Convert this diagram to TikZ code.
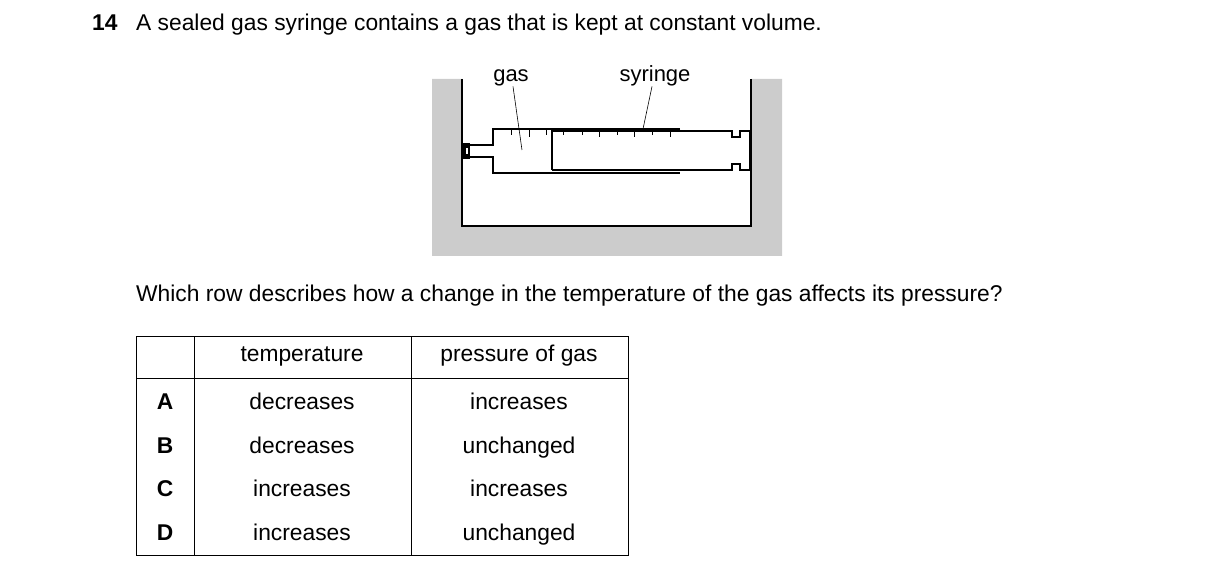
\documentclass[tikz,border=0pt]{standalone}
\usepackage{fontspec}
\setmainfont{Liberation Sans}
\usetikzlibrary{positioning}

\begin{document}
\begin{tikzpicture}[x = 1pt, y = -1pt,
	txt/.style = {inner sep = 0pt, text height = 1.6ex, text depth = 0.4ex, font = \fontsize{22.8}{26}\selectfont},
	cell/.style = {txt, anchor = center},
	lbl/.style = {inner sep = 0pt, text height = 1.6ex, text depth = 0.4ex, font = \fontsize{22}{26}\selectfont}]
\useasboundingbox (0, 0) rectangle (1216, 580);

\node [txt, anchor = west, font = \fontsize{22.8}{26}\selectfont\bfseries] (num) at (92, 27) {14};
\node [txt, anchor = west] (q) at (136, 27) {A sealed gas syringe contains a gas that is kept at constant volume.};

% tank
\fill [black!20] (432, 79) -- (462, 79) -- (462, 226) -- (751, 226) -- (751, 79) -- (782, 79) -- (782, 256) -- (432, 256) -- cycle;
\draw [line width = 1.4pt] (462, 79) -- (462, 226) -- (751, 226) -- (751, 79);

% syringe barrel and nozzle
\draw [line width = 1.2pt] (680, 129) -- (493, 129) -- (493, 145) -- (468, 145);
\draw [line width = 1.2pt] (468, 157) -- (493, 157) -- (493, 173) -- (680, 173);
\draw [line width = 2.2pt] (554, 129) -- (680, 129);
\draw [line width = 2.2pt] (554, 173) -- (680, 173);
\fill (462, 143) rectangle (470, 159);
\fill [white] (466, 148) rectangle (468, 154);

% plunger
\draw [line width = 1.2pt] (552, 170) -- (552, 131) -- (732, 131) -- (732, 137) -- (740, 137) -- (740, 131) -- (750, 131);
\draw [line width = 1.2pt] (552, 170) -- (732, 170) -- (732, 164) -- (740, 164) -- (740, 170) -- (750, 170);
\draw [line width = 2pt] (750, 130) -- (750, 171);

% scale
\foreach \x/\l in {511/5, 529/7, 546/5, 563/5, 582/5, 599/7, 617/5, 634/7, 652/5, 670/7}
	\draw [line width = 0.6pt] (\x, 130) -- (\x, 130 + \l);

% labels
\node [lbl] (gas) at (511, 78) {gas};
\node [lbl] (syr) at (655, 78) {syringe};
\coordinate (gasend) at (522, 150);
\coordinate (syrend) at (643, 129);
\draw [line width = 0.6pt] (gas.south) ++(2, 3) -- (gasend);
\draw [line width = 0.6pt] (syr.south) ++(-3, 3) -- (syrend);

\node [txt, anchor = west] (ask) at (136, 298) {Which row describes how a change in the temperature of the gas affects its pressure?};

% table
\draw [line width = 0.8pt] (136, 336) rectangle (628, 555);
\draw [line width = 0.8pt] (136, 378) -- (628, 378);
\draw [line width = 0.8pt] (194, 336) -- (194, 555);
\draw [line width = 0.8pt] (411, 336) -- (411, 555);

\node [cell] (hT) at (302, 358) {temperature};
\node [cell] (hP) at (519, 358) {pressure of gas};
\foreach \r/\y/\t/\p in {A/406/decreases/increases, B/450/decreases/unchanged, C/493/increases/increases, D/537/increases/unchanged}{
	\node [cell, font = \fontsize{22.8}{26}\selectfont\bfseries] (r\r) at (165, \y) {\r};
	\node [cell] (t\r) at (302, \y) {\t};
	\node [cell] (p\r) at (519, \y) {\p};
}
\end{tikzpicture}
\end{document}
